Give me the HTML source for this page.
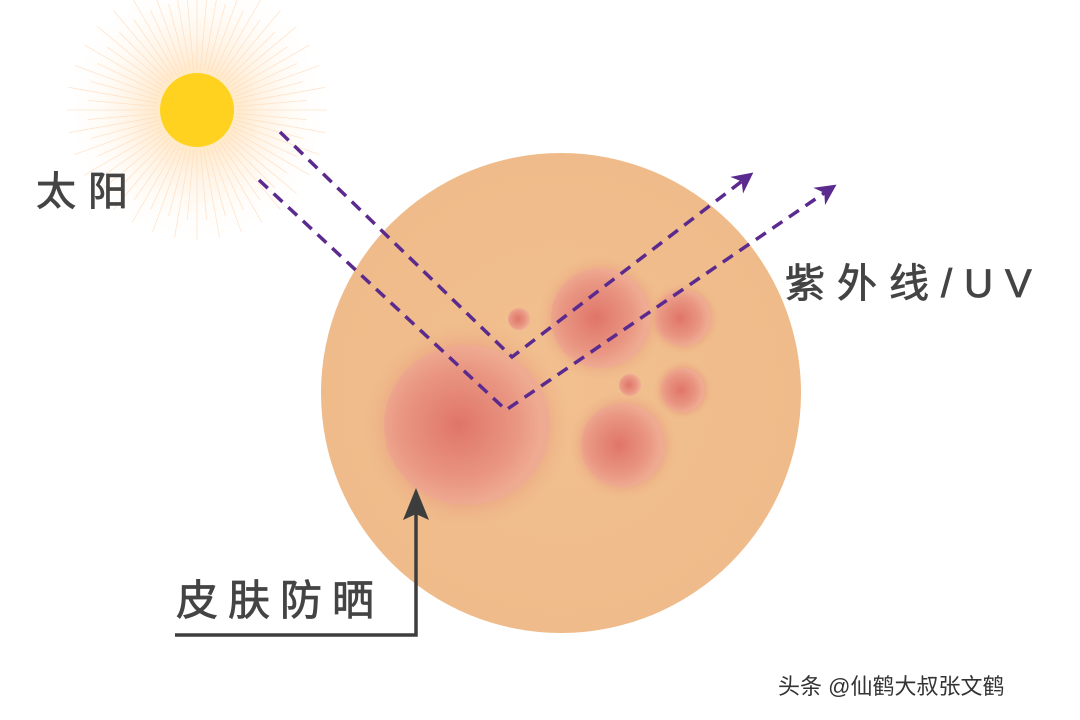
<!DOCTYPE html>
<html><head><meta charset="utf-8"><style>
html,body{margin:0;padding:0;background:#fff;}
svg{display:block;}
text{font-family:"Liberation Sans","Noto Sans CJK SC",sans-serif;}
</style></head><body>
<svg width="1080" height="720" viewBox="0 0 1080 720" xmlns="http://www.w3.org/2000/svg">
<defs>
<radialGradient id="sunglow" cx="50%" cy="50%" r="50%">
<stop offset="0" stop-color="#ffe27a" stop-opacity="0.9"/>
<stop offset="0.35" stop-color="#ffdcb0" stop-opacity="0.55"/>
<stop offset="1" stop-color="#fff" stop-opacity="0"/>
</radialGradient>
<radialGradient id="skin" cx="50%" cy="50%" r="50%">
<stop offset="0" stop-color="#f2bf8f"/>
<stop offset="1" stop-color="#efbb8a"/>
</radialGradient>
<radialGradient id="spot" cx="45%" cy="50%" r="50%">
<stop offset="0" stop-color="#e0756a"/>
<stop offset="0.7" stop-color="#e99682"/>
<stop offset="1" stop-color="#efab92"/>
</radialGradient>
<radialGradient id="halo" cx="50%" cy="50%" r="50%">
<stop offset="0.65" stop-color="#e58c78" stop-opacity="0.7"/>
<stop offset="1" stop-color="#efbb8a" stop-opacity="0"/>
</radialGradient>
<marker id="ah" viewBox="0 0 10 10" refX="8" refY="5" markerWidth="6" markerHeight="6" orient="auto">
<path d="M0,0 L10,5 L0,10 L3,5 z" fill="#5b2a8e"/>
</marker>
</defs>
<circle cx="197" cy="110" r="135" fill="url(#sunglow)"/>
<g id="rays" stroke="#ffd9b8" stroke-width="0.8" opacity="0.7"></g>
<circle cx="197" cy="110" r="37" fill="#ffd21f"/>
<circle cx="561" cy="393" r="240" fill="url(#skin)"/>
<g>
<circle cx="467" cy="425" r="105" fill="url(#halo)"/>
<ellipse cx="467" cy="425" rx="83" ry="80" fill="url(#spot)"/>
<circle cx="601" cy="318" r="64" fill="url(#halo)"/>
<circle cx="601" cy="318" r="50" fill="url(#spot)"/>
<circle cx="683" cy="318" r="37" fill="url(#halo)"/>
<circle cx="683" cy="318" r="28" fill="url(#spot)"/>
<circle cx="683" cy="390" r="30" fill="url(#halo)"/>
<circle cx="683" cy="390" r="22" fill="url(#spot)"/>
<circle cx="623" cy="445" r="55" fill="url(#halo)"/>
<circle cx="623" cy="445" r="42" fill="url(#spot)"/>
<circle cx="519" cy="319" r="11" fill="url(#spot)"/>
<circle cx="630" cy="385" r="11" fill="url(#spot)"/>
</g>
<g fill="none" stroke="#5b2a8e" stroke-width="3.5" stroke-dasharray="12,8">
<polyline points="280,132 512,357 750,175" marker-end="url(#ah)"/>
<polyline points="259,180 506,410 833,187" marker-end="url(#ah)"/>
</g>
<polyline points="175,635 416,635 416,510" fill="none" stroke="#3d3d3d" stroke-width="3.5"/>
<polygon points="416,488 403,520 416,514 429,520" fill="#3d3d3d"/>
<g fill="#444" stroke="#444" stroke-width="0.8">
<text x="36" y="205" font-size="40" letter-spacing="12">太阳</text>
<text x="785" y="297" font-size="40" letter-spacing="12">紫外线/UV</text>
<text x="176" y="615" font-size="42" letter-spacing="10">皮肤防晒</text>
</g>
<text x="778" y="694" font-size="22" fill="#333">头条 @仙鹤大叔张文鹤</text>
</svg>
<script>
var g=document.getElementById('rays');
for(var i=0;i<72;i++){var a=i*Math.PI/36,r=(i%2?110:130);
var l=document.createElementNS('http://www.w3.org/2000/svg','line');
l.setAttribute('x1',197+40*Math.cos(a));l.setAttribute('y1',110+40*Math.sin(a));
l.setAttribute('x2',197+r*Math.cos(a));l.setAttribute('y2',110+r*Math.sin(a));g.appendChild(l);}
</script>
</body></html>
